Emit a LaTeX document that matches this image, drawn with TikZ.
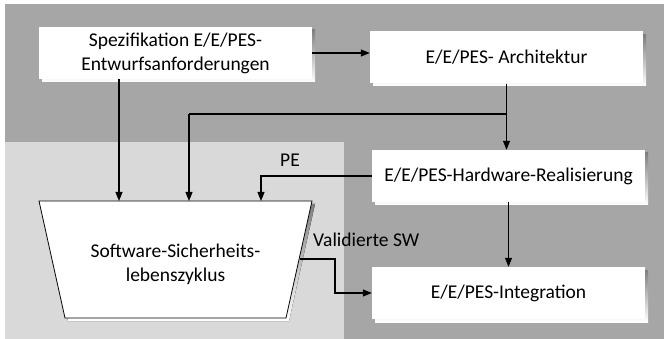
\documentclass[tikz,border=0pt]{standalone}
\usepackage{fontspec}
\setmainfont{Carlito}
\usetikzlibrary{arrows.meta}
\definecolor{bgdark}{HTML}{A6A6A6}
\definecolor{bglight}{HTML}{D9D9D9}
\definecolor{shade}{HTML}{6B6B6B}
\tikzset{
  stagebox/.style={draw=none, fill=white, minimum width=273pt, minimum height=52pt,
    inner sep=0pt, align=center, font=\fontsize{19.5}{24}\selectfont},
  link/.style={line width=1.1pt, draw=black},
  arr/.style={link, -{Triangle[length=9pt,width=7pt]}},
  lbl/.style={font=\fontsize{19.5}{24}\selectfont, inner sep=0pt}
}
\begin{document}
\begin{tikzpicture}[x=1pt,y=-1pt]
\useasboundingbox (0,0) rectangle (664,339);
% background areas
\fill[bgdark] (5,4) rectangle (664,339);
\fill[bglight] (5,142) rectangle (344,339);

% shadows
\foreach \a/\b/\c/\d in {39/27/312/79, 370/32/643/83, 372/150/645/202, 372/267/645/319}
  \fill[shade] (\a+3,\b+3) rectangle (\c+3,\d+3);
\fill[shade] (42,204) -- (315,204) -- (289,321) -- (68,321) -- cycle;

% boxes
\node[stagebox] (spec) at (175.5,53) {Spezifikation E/E/PES-\\Entwurfsanforderungen};
\node[stagebox] (arch) at (506.5,57.5) {E/E/PES- Architektur};
\node[stagebox] (hw) at (508.5,176) {E/E/PES-Hardware-Realisierung};
\node[stagebox] (integ) at (508.5,293) {E/E/PES-Integration};

% software safety lifecycle trapezoid
\coordinate (tl) at (39,201);
\coordinate (tr) at (312,201);
\coordinate (br) at (286,318);
\coordinate (bl) at (65,318);
\fill[white] (tl) -- (tr) -- (br) -- (bl) -- cycle;
\draw[line width=0.8pt] (tl) -- (tr) -- (br) -- (bl) -- cycle;
\node[lbl, align=center] (sw) at (175.5,264) {Software-Sicherheits-\\lebenszyklus};

% connectors
\coordinate (swtop1) at (119,201);
\coordinate (swtop2) at (189,201);
\coordinate (swtop3) at (261,201);
\coordinate (swout) at (300,259);
\coordinate (junc) at (506,114);

\draw[arr] (spec.east) -- (spec.east -| arch.west);
\draw[arr] (arch.south) -- (arch.south |- hw.north);
\draw[link] (junc) -- (189,114);
\draw[arr] (189,114) -- (swtop2);
\draw[arr] (spec.south -| swtop1) -- (swtop1);
\draw[arr] (hw.west) -- (261,176) -- (swtop3);
\draw[arr] (hw.south) -- (integ.north);
\draw[arr] (swout) -- (335,259) -- (335,293) -- (integ.west);

% labels
\node[lbl, anchor=base] (pe) at (290,167) {PE};
\node[lbl, anchor=base west] (valsw) at (313,247) {Validierte SW};
\end{tikzpicture}
\end{document}
